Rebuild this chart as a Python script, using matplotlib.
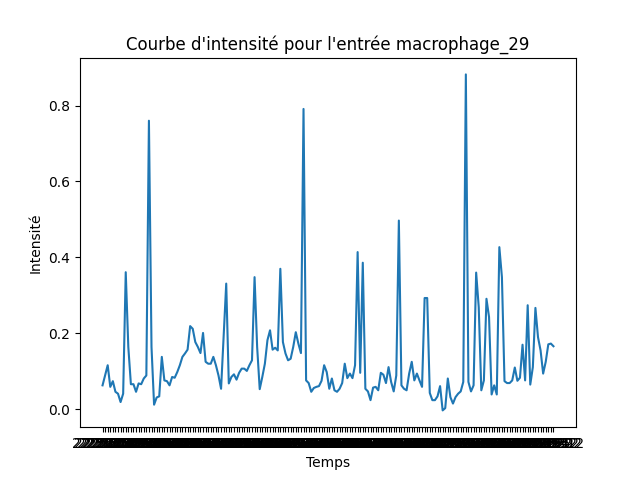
import pandas as pd
import matplotlib
matplotlib.use("Agg")
import matplotlib.pyplot as plt

entree = "macrophage_29"

intensite = [
    0.063, 0.090, 0.116, 0.059, 0.074, 0.046, 0.041, 0.019, 0.041, 0.361,
    0.164, 0.066, 0.066, 0.046, 0.068, 0.066, 0.081, 0.089, 0.760, 0.164,
    0.012, 0.031, 0.034, 0.138, 0.076, 0.074, 0.063, 0.085, 0.083, 0.098,
    0.116, 0.138, 0.147, 0.157, 0.219, 0.212, 0.177, 0.164, 0.148, 0.201,
    0.125, 0.120, 0.120, 0.138, 0.116, 0.089, 0.054, 0.190, 0.331, 0.068,
    0.085, 0.092, 0.078, 0.096, 0.107, 0.107, 0.101, 0.116, 0.129, 0.348,
    0.164, 0.053, 0.085, 0.120, 0.182, 0.208, 0.157, 0.162, 0.155, 0.370,
    0.177, 0.147, 0.129, 0.133, 0.164, 0.203, 0.173, 0.148, 0.791, 0.076,
    0.069, 0.046, 0.056, 0.059, 0.061, 0.075, 0.116, 0.098, 0.054, 0.081,
    0.050, 0.046, 0.054, 0.069, 0.120, 0.082, 0.094, 0.082, 0.116, 0.414,
    0.096, 0.386, 0.054, 0.047, 0.024, 0.057, 0.059, 0.050, 0.096, 0.091,
    0.069, 0.111, 0.072, 0.047, 0.089, 0.497, 0.063, 0.054, 0.050, 0.094,
    0.125, 0.076, 0.094, 0.076, 0.059, 0.293, 0.293, 0.043, 0.024, 0.024,
    0.034, 0.061, -0.003, 0.003, 0.081, 0.032, 0.015, 0.032, 0.041, 0.047,
    0.072, 0.882, 0.072, 0.047, 0.063, 0.360, 0.269, 0.050, 0.076, 0.291,
    0.243, 0.039, 0.063, 0.039, 0.427, 0.348, 0.074, 0.069, 0.069, 0.076,
    0.110, 0.075, 0.083, 0.170, 0.076, 0.274, 0.065, 0.111, 0.267, 0.190,
    0.155, 0.094, 0.125, 0.171, 0.173, 0.166,
]

# Horodatage de chaque mesure (étiquettes de l'axe x)
temps = list(pd.date_range("2023-01-01 22:50:02", periods=len(intensite), freq="10s").strftime("%H:%M:%S"))

plt.figure(figsize=(6.4, 4.8), dpi=100)
plt.plot(temps, intensite)
plt.title(f"Courbe d'intensité pour l'entrée {entree}")
plt.xlabel("Temps")
plt.ylabel("Intensité")
plt.savefig("out.png")
plt.close()
